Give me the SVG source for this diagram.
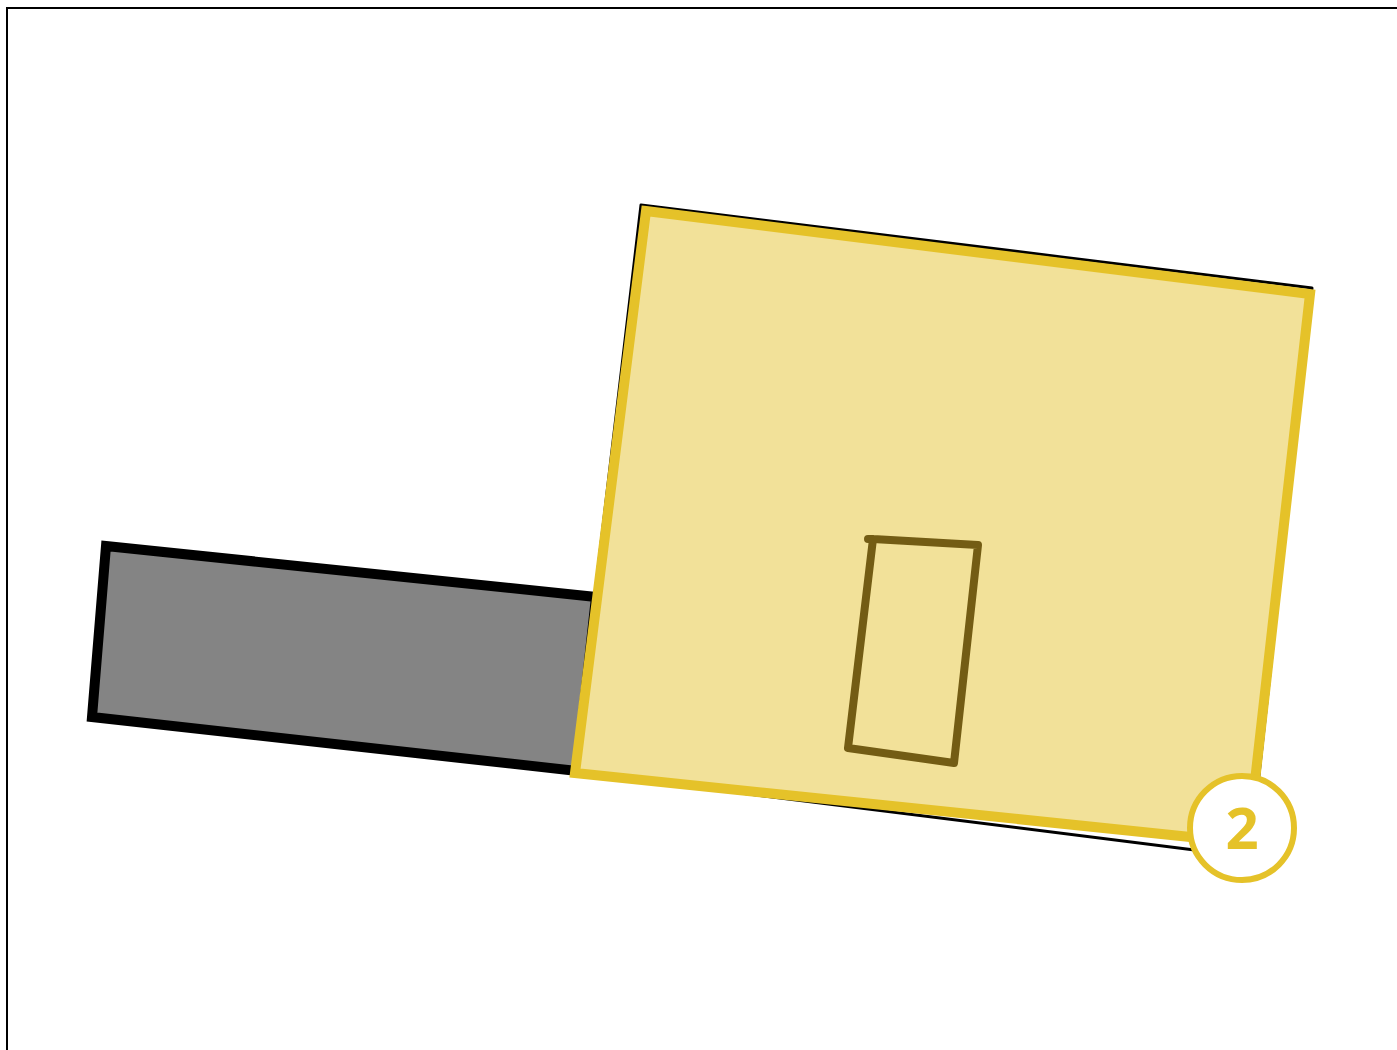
<svg xmlns="http://www.w3.org/2000/svg" width="1397" height="1050" viewBox="0 0 1397 1050">
<style>
.frame{fill:none;stroke:#000;stroke-width:2}
.gray{fill:#848484;stroke:#000;stroke-width:10;stroke-linejoin:miter}
.under{fill:#fff;stroke:#000;stroke-width:3;stroke-linejoin:round}
.zone{fill:#F2E199;stroke:#E5C229;stroke-width:10;stroke-linejoin:miter}
.inner{fill:none;stroke:#735C14;stroke-width:8;stroke-linejoin:round;stroke-linecap:round}
.badge{fill:#fff;stroke:#E5C229;stroke-width:6}
.badgetext{fill:#E5C229;font-family:"Open Sans","DejaVu Sans",sans-serif;font-weight:700;font-size:58px}
</style>
<rect class="frame" x="7" y="8" width="1400" height="1060"/>
<g id="building-gray">
<polygon class="gray" points="106,546 596,597 577,771 92,717"/>
</g>
<g id="building-zone">
<polygon class="under" points="641,205 1312,288 1250,857 574,772"/>
<polygon class="zone" points="646,211 1310,294 1248,843 575,773"/>
</g>
<g id="room">
<polyline class="inner" points="868,539 873,539 978,545 954,763 848,748 873,539"/>
</g>
<g id="badge-2">
<circle class="badge" cx="1242" cy="828" r="52"/>
<text class="badgetext" x="1242" y="849" text-anchor="middle">2</text>
</g>
<g id="connectors"/>
</svg>
